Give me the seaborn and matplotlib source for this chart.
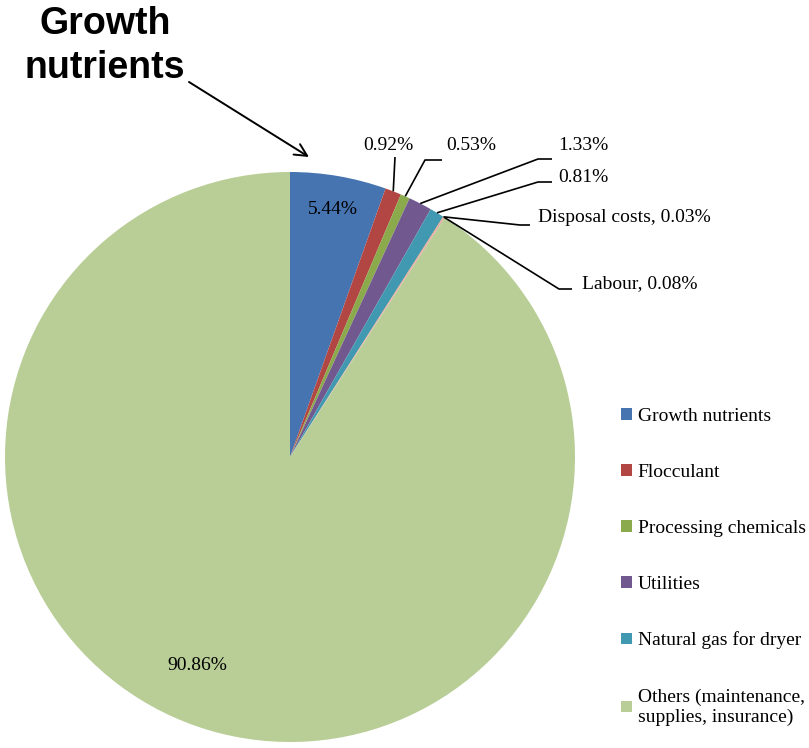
import matplotlib
matplotlib.use("Agg")
import matplotlib.pyplot as plt
import numpy as np
import seaborn as sns

# Operating cost breakdown (%)
categories = ["Growth nutrients", "Flocculant", "Processing chemicals", "Utilities",
              "Natural gas for dryer", "Disposal costs", "Labour",
              "Others (maintenance,\nsupplies, insurance)"]
shares = [5.44, 0.92, 0.53, 1.33, 0.81, 0.03, 0.08, 90.86]
slice_colors = ["#4674B0", "#B24643", "#8BAA4B", "#71588F", "#4199B1",
                "#E0904A", "#E6A9A6", "#B8CE96"]
legend_items = [0, 1, 2, 3, 4, 7]

sns.set_theme(style="white")
plt.rcParams["font.family"] = ["Liberation Serif", "DejaVu Serif"]
plt.rcParams["text.color"] = "black"

W, H = 809, 748
CX, CY, R = 290, 457, 285

fig = plt.figure(figsize=(W / 100, H / 100), dpi=100)
ax = fig.add_axes([0, 0, 1, 1])

wedges, _ = ax.pie(shares, colors=sns.color_palette(slice_colors), startangle=90,
                   counterclock=False, radius=1, center=(0, 0),
                   wedgeprops=dict(linewidth=0))

ax.set_xlim(-CX / R, (W - CX) / R)
ax.set_ylim((CY - H) / R, CY / R)
ax.set_aspect("equal")
ax.axis("off")


def px(x, y):
    """Pixel position -> data coordinates."""
    return (x - CX) / R, (CY - y) / R


def edge_point(w, r=1.0):
    th = np.deg2rad((w.theta1 + w.theta2) / 2)
    return r * np.cos(th), r * np.sin(th)


fs = 14
# inside labels
ax.text(*px(333, 210), f"{shares[0]:.2f}%", ha="center", va="center", fontsize=fs)
ax.text(*px(197, 665), f"{shares[7]:.2f}%", ha="center", va="center", fontsize=fs)

# outside labels with leader lines: (index, text, text pos, alignment, elbow points)
outside = [
    (1, f"{shares[1]:.2f}%", (388, 145), "center", [(395, 157)]),
    (2, f"{shares[2]:.2f}%", (471, 145), "center", [(442, 160), (425, 160)]),
    (3, f"{shares[3]:.2f}%", (583, 145), "center", [(552, 159), (538, 159)]),
    (4, f"{shares[4]:.2f}%", (583, 177), "center", [(552, 182), (538, 182)]),
    (5, f"Disposal costs, {shares[5]:.2f}%", (538, 218), "left", [(530, 225), (520, 225)]),
    (6, f"Labour, {shares[6]:.2f}%", (582, 284), "left", [(572, 289), (559, 289)]),
]
for idx, label, (tx, ty), ha, elbow in outside:
    ax.text(*px(tx, ty), label, ha=ha, va="center", fontsize=fs)
    pts = [px(x, y) for x, y in elbow] + [edge_point(wedges[idx])]
    xs, ys = zip(*pts)
    ax.plot(xs, ys, color="black", lw=1.2, solid_capstyle="butt")

# callout title with arrow
ax.text(*px(105, 46), "Growth\nnutrients", ha="center", va="center",
        fontsize=27, fontweight="bold", family=["Liberation Sans", "DejaVu Sans"],
        linespacing=1.3, color="black")
ax.annotate("", xy=px(309, 157), xytext=px(189, 82),
            arrowprops=dict(arrowstyle="->", color="black", lw=1.4,
                            mutation_scale=22, shrinkA=0, shrinkB=0))

leg = ax.legend([wedges[i] for i in legend_items], [categories[i] for i in legend_items],
                loc="upper left", bbox_to_anchor=(621 / W, 1 - 408 / H),
                bbox_transform=fig.transFigure, frameon=False, fontsize=fs,
                handlelength=0.55, handleheight=0.55, handletextpad=0.3,
                labelspacing=2.0, borderpad=0, borderaxespad=0)

fig.savefig("out.png", dpi=100)
